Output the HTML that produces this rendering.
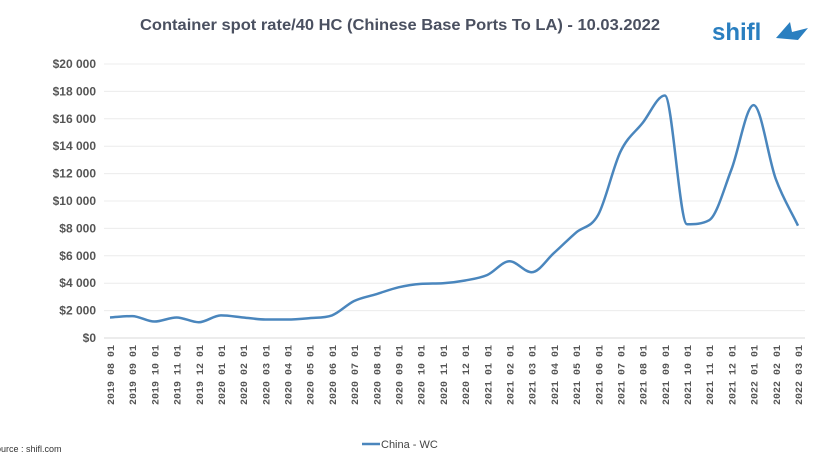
<!DOCTYPE html>
<html><head><meta charset="utf-8"><style>
body{margin:0;background:#fff;}
svg{display:block;font-family:"Liberation Sans",sans-serif;}
</style></head><body>
<svg width="836" height="462" viewBox="0 0 836 462">
<text x="400" y="30" text-anchor="middle" font-size="16" font-weight="bold" fill="#4a5060" textLength="520" lengthAdjust="spacingAndGlyphs">Container spot rate/40 HC (Chinese Base Ports To LA) - 10.03.2022</text>
<g>
<text x="712" y="40" font-size="24" font-weight="bold" fill="#2a7fc0">shifl</text>
<polygon points="776,38 790,22 792,32 808,28 798,40" fill="#2a7fc0"/>
</g>
<g id="grid"></g>
<g id="yt"></g>
<g id="xt"></g>
<path id="line" fill="none" stroke="#4a86bd" stroke-width="2.5"/>
<g>
<line x1="362" y1="444" x2="380" y2="444" stroke="#4a86bd" stroke-width="2.5"/>
<text x="381" y="448" font-size="11" fill="#444">China - WC</text>
</g>
<text x="-4" y="452" font-size="9" fill="#333">ource : shifl.com</text>
</svg>
<script>
const categories=["2019 08 01","2019 09 01","2019 10 01","2019 11 01","2019 12 01","2020 01 01","2020 02 01","2020 03 01","2020 04 01","2020 05 01","2020 06 01","2020 07 01","2020 08 01","2020 09 01","2020 10 01","2020 11 01","2020 12 01","2021 01 01","2021 02 01","2021 03 01","2021 04 01","2021 05 01","2021 06 01","2021 07 01","2021 08 01","2021 09 01","2021 10 01","2021 11 01","2021 12 01","2022 01 01","2022 02 01","2022 03 01"];
const values=[1500,1600,1200,1500,1150,1650,1500,1350,1350,1450,1650,2700,3200,3700,3950,4000,4200,4600,5600,4800,6200,7700,9000,13600,15700,17700,8300,8600,12300,17000,11600,8200];
const yTicks=[0,2000,4000,6000,8000,10000,12000,14000,16000,18000,20000];
const NS="http://www.w3.org/2000/svg";
const x0=110,x1=798,y0=338,y1=64,vmax=20000;
const xs=i=>x0+i*(x1-x0)/(categories.length-1);
const ys=v=>y0-(v/vmax)*(y0-y1);
const fmt=v=>"$"+(v>=1000?Math.floor(v/1000)+" "+String(v%1000).padStart(3,"0"):v);
const grid=document.getElementById('grid'),yt=document.getElementById('yt'),xt=document.getElementById('xt');
yTicks.forEach(v=>{
 const l=document.createElementNS(NS,'line');
 
 
 l.setAttribute('x1',104);l.setAttribute('x2',805);l.setAttribute('y1',ys(v));l.setAttribute('y2',ys(v));
 l.setAttribute('stroke',v===0?'#d8d8d8':'#ececec');l.setAttribute('stroke-width',1);
 grid.appendChild(l);
 const t=document.createElementNS(NS,'text');
 
 
 t.setAttribute('x',96);t.setAttribute('y',ys(v)+4);t.setAttribute('text-anchor','end');
 t.setAttribute('font-size',12);t.setAttribute('font-weight','bold');t.setAttribute('fill','#555');
 t.textContent=fmt(v);yt.appendChild(t);
});
categories.forEach((c,i)=>{
 const t=document.createElementNS(NS,'text');
 
 
 const x=xs(i)+4,y=345;
 t.setAttribute('transform',`translate(${x},${y}) rotate(-90)`);
 t.setAttribute('text-anchor','end');t.setAttribute('font-size',10);t.setAttribute('font-weight','bold');t.setAttribute('fill','#555');
 t.setAttribute('font-family','Liberation Mono, monospace');
 t.textContent=c;xt.appendChild(t);
});
const pts=values.map((v,i)=>[xs(i),ys(v)]);
const n=pts.length,h=pts[1][0]-pts[0][0];
const dl=[];for(let i=0;i<n-1;i++)dl.push((pts[i+1][1]-pts[i][1])/h);
const m=new Array(n);m[0]=dl[0];m[n-1]=dl[n-2];
for(let i=1;i<n-1;i++){m[i]=(dl[i-1]*dl[i]<=0)?0:(dl[i-1]+dl[i])/2;}
for(let i=0;i<n-1;i++){if(dl[i]===0){m[i]=0;m[i+1]=0;continue;}const a=m[i]/dl[i],b=m[i+1]/dl[i],s=a*a+b*b;if(s>9){const t=3/Math.sqrt(s);m[i]=t*a*dl[i];m[i+1]=t*b*dl[i];}}
let d=`M${pts[0][0]},${pts[0][1]}`;
for(let i=0;i<n-1;i++){
 const p1=pts[i],p2=pts[i+1];
 d+=` C${p1[0]+h/3},${p1[1]+m[i]*h/3} ${p2[0]-h/3},${p2[1]-m[i+1]*h/3} ${p2[0]},${p2[1]}`;
}
document.getElementById('line').setAttribute('d',d);
</script>
</body></html>
